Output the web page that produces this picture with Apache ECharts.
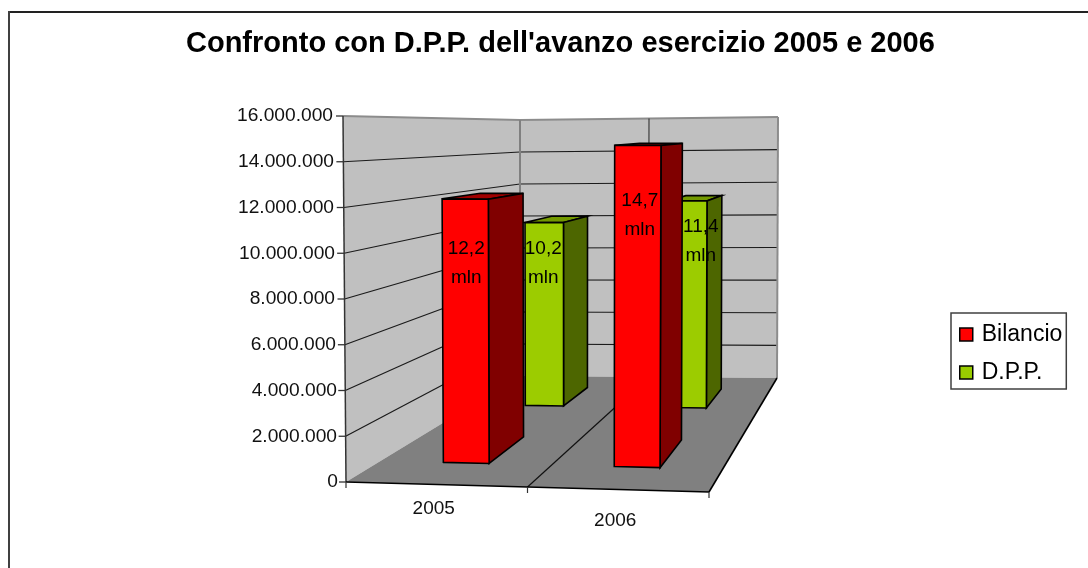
<!DOCTYPE html>
<html>
<head>
<meta charset="utf-8">
<title>Confronto con D.P.P.</title>
<style>
    html, body { margin: 0; padding: 0; background: #fff; }
    #chart-container { width: 1088px; height: 568px; }
</style>
<script src="https://cdn.jsdelivr.net/npm/echarts@6/dist/echarts.min.js"></script>
</head>
<body>
<div id="chart-container"></div>
<script>
    'use strict';

    var categories = ['2005', '2006'];
    var bilancioValues = [12200000, 14700000];
    var dppValues = [10200000, 11400000];
    var bilancioLabels = ['12,2\nmln', '14,7\nmln'];
    var dppLabels = ['10,2\nmln', '11,4\nmln'];
    var axisTicks = [0, 2000000, 4000000, 6000000, 8000000, 10000000, 12000000, 14000000, 16000000];

    var FONT = '"Liberation Sans", Arial, sans-serif';

    // corners of the 3d room on screen, f = front, b = back, l/r = left/right
    var room = {
        floor: {fl: [346, 482], fr: [709, 492], bl: [520, 376], br: [777, 378]},
        ceil: {fl: [343, 116], fr: [711, 117], bl: [520, 120], br: [778, 117]}
    };

    function mix(a, b, t) {
        return [a[0] + (b[0] - a[0]) * t, a[1] + (b[1] - a[1]) * t];
    }

    function plane(p, u, d) {
        return mix(mix(p.fl, p.fr, u), mix(p.bl, p.br, u), d);
    }

    // u: 0..1 along the category axis, v: 0..1 up the value axis, d: 0..1 into the room
    function project(u, v, d) {
        return mix(plane(room.floor, u, d), plane(room.ceil, u, d), v);
    }

    function axisU(params, px) {
        return (px - params.coordSys.x) / params.coordSys.width;
    }

    function axisV(params, py) {
        var rect = params.coordSys;
        return (rect.y + rect.height - py) / rect.height;
    }

    function poly(points, fill, stroke, width) {
        return {
            type: 'polygon',
            shape: {points: points},
            style: {fill: fill, stroke: stroke || 'none', lineWidth: width || 0, lineJoin: 'miter'}
        };
    }

    function line(a, b, stroke, width) {
        return {
            type: 'line',
            shape: {x1: a[0], y1: a[1], x2: b[0], y2: b[1]},
            style: {stroke: stroke, lineWidth: width}
        };
    }

    function renderRoom(params, api) {
        var kids = [];
        var band = api.size([1, 0])[0];
        var mid = axisU(params, api.coord([0, 0])[0] + band / 2);

        kids.push(poly([project(0, 0, 0), project(0, 0, 1), project(0, 1, 1), project(0, 1, 0)], '#c0c0c0'));
        kids.push(poly([project(0, 0, 1), project(1, 0, 1), project(1, 1, 1), project(0, 1, 1)], '#c0c0c0'));
        kids.push(poly([project(0, 0, 0), project(1, 0, 0), project(1, 0, 1), project(0, 0, 1)], '#808080'));

        axisTicks.forEach(function(tick) {
            var v = axisV(params, api.coord([0, tick])[1]);
            var a = project(0, v, 0);
            if (tick > 0 && tick < axisTicks[axisTicks.length - 1]) {
                kids.push(line(a, project(0, v, 1), '#1a1a1a', 1.2));
                kids.push(line(project(0, v, 1), project(1, v, 1), '#1a1a1a', 1.2));
            }
            kids.push(line([a[0] - 7, a[1]], a, '#333', 1.3));
        });

        // walls outline
        kids.push(line(project(0, 1, 0), project(0, 1, 1), '#8c8c8c', 2));
        kids.push(line(project(0, 1, 1), project(1, 1, 1), '#8c8c8c', 2));
        kids.push(line(project(0, 0, 1), project(0, 1, 1), '#808080', 2));
        kids.push(line(project(1, 0, 1), project(1, 1, 1), '#8c8c8c', 2));
        kids.push(line(project(0, 0, 0), project(0, 1, 0), '#333', 1.5));
        // category divider on back wall and floor
        kids.push(line(project(mid, 0, 1), project(mid, 1, 1), '#222', 1));
        kids.push(line(project(mid, 0, 0), project(mid, 0, 1), '#111', 1.2));
        // floor edges and x ticks
        kids.push(line(project(0, 0, 0), project(1, 0, 0), '#000', 1.6));
        kids.push(line(project(1, 0, 0), project(1, 0, 1), '#000', 1.6));
        [0, mid, 1].forEach(function(u) {
            var p = project(u, 0, 0);
            kids.push(line(p, [p[0], p[1] + 6], '#333', 1.2));
        });

        return {type: 'group', children: kids};
    }

    function barRenderer(opt) {
        return function(params, api) {
            var cx = api.coord([api.value(0), 0])[0];
            var half = api.size([1, 0])[0] * 0.134;
            var u0 = axisU(params, cx - half);
            var u1 = axisU(params, cx + half);
            var v = axisV(params, api.coord([0, api.value(1)])[1]);
            var d0 = opt.depth[0];
            var d1 = opt.depth[1];
            var nudge = opt.labelNudge[params.dataIndex];
            var anchor = project((u0 + u1) / 2, v, d0);

            return {
                type: 'group',
                children: [
                    poly([project(u0, v, d0), project(u1, v, d0), project(u1, v, d1), project(u0, v, d1)], opt.top, '#000', 1.6),
                    poly([project(u1, 0, d0), project(u1, 0, d1), project(u1, v, d1), project(u1, v, d0)], opt.side, '#000', 1.6),
                    poly([project(u0, 0, d0), project(u1, 0, d0), project(u1, v, d0), project(u0, v, d0)], opt.front, '#000', 1.6),
                    {
                        type: 'text',
                        style: {
                            text: opt.labels[params.dataIndex],
                            x: anchor[0] + nudge[0],
                            y: anchor[1] + nudge[1],
                            textAlign: 'center',
                            textVerticalAlign: 'middle',
                            font: '19px ' + FONT,
                            lineHeight: 29,
                            fill: '#000'
                        }
                    }
                ]
            };
        };
    }

    function pairs(values) {
        return values.map(function(v, i) { return [i, v]; });
    }

    function formatTick(value) {
        return String(value).replace(/\B(?=(\d{3})+$)/g, '.');
    }

    var yRich = {};
    axisTicks.forEach(function(tick, i) {
        yRich['t' + i] = {
            fontFamily: FONT, fontSize: 19.2, color: '#111',
            padding: [0, Math.round(i * 5 / 8), 0, 0]
        };
    });

    var chart = echarts.init(document.getElementById('chart-container'));

    chart.setOption({
        animation: false,
        backgroundColor: '#fff',
        title: {
            text: "Confronto con D.P.P. dell'avanzo esercizio 2005 e 2006",
            left: 186,
            top: 29,
            padding: 0,
            textStyle: {fontFamily: FONT, fontSize: 29, fontWeight: 'bold', color: '#000'}
        },
        legend: {
            orient: 'vertical',
            left: 951,
            top: 313,
            padding: [10, 4, 5, 8],
            itemWidth: 13,
            itemHeight: 13,
            itemGap: 15,
            icon: 'rect',
            selectedMode: false,
            borderColor: '#404040',
            borderWidth: 1.5,
            backgroundColor: '#fff',
            textStyle: {fontFamily: FONT, fontSize: 23, color: '#000', padding: [0, 0, 0, 4]},
            data: [
                {name: 'Bilancio', itemStyle: {color: '#ff0000', borderColor: '#000', borderWidth: 1.5}},
                {name: 'D.P.P.', itemStyle: {color: '#99cc00', borderColor: '#000', borderWidth: 1.5}}
            ]
        },
        grid: {left: 346, right: 379, top: 116, bottom: 86},
        xAxis: {
            type: 'category',
            data: categories,
            axisLine: {show: false},
            axisTick: {show: false},
            axisLabel: {
                margin: 17,
                formatter: function(value, i) {
                    return '{c' + i + '|' + value + '}';
                },
                rich: {
                    c0: {fontFamily: FONT, fontSize: 19, color: '#111', padding: [0, 6, 0, 0]},
                    c1: {fontFamily: FONT, fontSize: 19, color: '#111', padding: [12, 6, 0, 0]}
                }
            }
        },
        yAxis: {
            type: 'value',
            min: 0,
            max: 16000000,
            interval: 2000000,
            axisLine: {show: false},
            axisTick: {show: false},
            splitLine: {show: false},
            axisLabel: {
                margin: 8,
                formatter: function(value, i) {
                    return '{t' + i + '|' + formatTick(value) + '}';
                },
                rich: yRich
            }
        },
        graphic: [
            {type: 'line', shape: {x1: 9, y1: 12, x2: 1088, y2: 12}, style: {stroke: '#222', lineWidth: 2}},
            {type: 'line', shape: {x1: 9, y1: 11, x2: 9, y2: 568}, style: {stroke: '#404040', lineWidth: 2}}
        ],
        series: [
            {
                name: 'Bilancio',
                type: 'custom',
                z: 4,
                clip: false,
                silent: true,
                itemStyle: {color: '#ff0000'},
                encode: {x: 0, y: 1},
                data: pairs(bilancioValues),
                renderItem: barRenderer({
                    depth: [0.2, 0.445],
                    front: '#ff0000', side: '#800000', top: '#a00000',
                    labels: bilancioLabels,
                    labelNudge: [[1, 64], [2, 70]]
                })
            },
            {
                name: 'D.P.P.',
                type: 'custom',
                z: 3,
                clip: false,
                silent: true,
                itemStyle: {color: '#99cc00'},
                encode: {x: 0, y: 1},
                data: pairs(dppValues),
                renderItem: barRenderer({
                    depth: [0.73, 0.9],
                    front: '#9ccc00', side: '#4d6600', top: '#739900',
                    labels: dppLabels,
                    labelNudge: [[-1, 41], [13, 40]]
                })
            },
            {
                name: 'room',
                type: 'custom',
                z: 1,
                clip: false,
                silent: true,
                encode: {x: 0, y: 1},
                data: [[0, 0]],
                renderItem: renderRoom
            }
        ]
    });
</script>
</body>
</html>
